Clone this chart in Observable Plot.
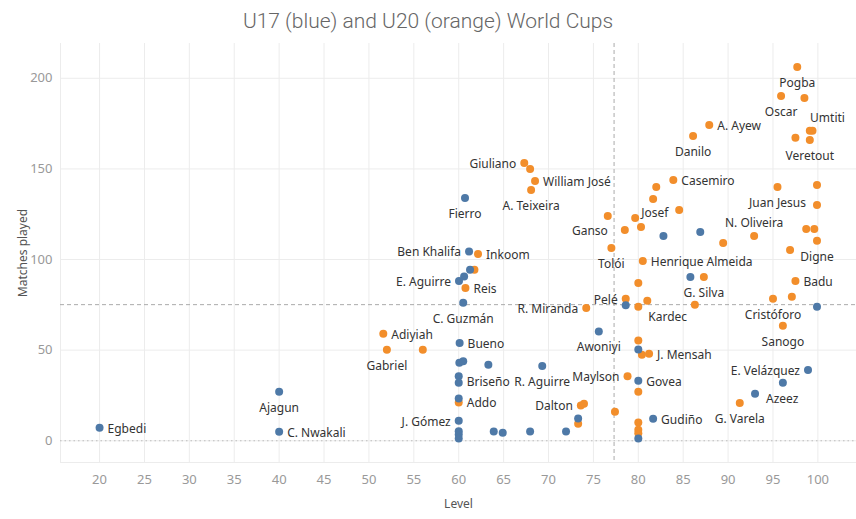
<!DOCTYPE html>
<html>
<head>
<meta charset="utf-8">
<script src="https://cdn.jsdelivr.net/npm/d3@7"></script>
<script src="https://cdn.jsdelivr.net/npm/@observablehq/plot@0.6"></script>
<style>
  html, body { margin: 0; padding: 0; background: #fff; }
  #title {
    height: 36px; width: 856px; text-align: center;
    font-family: Roboto, "Open Sans", sans-serif; font-weight: 300;
    font-size: 21px; line-height: 26px; color: #666;
    box-sizing: border-box; padding-top: 8px; white-space: nowrap;
  }
  #chart svg { display: block; }
</style>
</head>
<body>
<div id="title">U17 (blue) and U20 (orange) World Cups</div>
<div id="chart"></div>
<script>
// ---------- Data ----------
const u17Names = ["Egbedi","Ajagun","C. Nwakali","Fierro","Ben Khalifa","","","E. Aguirre","C. Guzmán","Bueno",
  "","","","R. Aguirre","","Briseño","","J. Gómez","","",
  "","","","","","","Awoniyi","","","Govea",
  "","Gudiño","","","","","E. Velázquez","","Azeez"];
const u17Level = [20,40,40,60.7,61.15,61.26,60.6,60.03,60.5,60.1,
  60.07,60.5,63.3,69.3,60,60,60,60,60,60,
  60,63.9,64.9,67.95,71.95,73.3,75.6,78.6,80,80,
  80,81.65,82.8,86.9,85.8,99.9,98.9,96.1,93.0];
const u17Matches = [7.2,27,5,134,104.4,94.3,90.6,88.2,76.2,54,
  43.0,43.9,41.9,41.3,35.6,32.0,23.3,11.0,5.3,3.5,
  1.3,5.1,4.4,5.1,5.1,12.3,60.3,74.8,50.3,33.1,
  1.3,12.1,113.0,115.2,90.4,73.9,39.1,32.0,25.9];

const u20Names = ["Pogba","Oscar","","Umtiti","","","Veretout","A. Ayew","Danilo","Giuliano",
  "","William José","A. Teixeira","Casemiro","","","","Josef","","Ganso",
  "","","","Juan Jesus","N. Oliveira","","","","Digne","",
  "Tolói","Henrique Almeida","Inkoom","","Reis","R. Miranda","Pelé","Kardec","","",
  "G. Silva","","Badu","Cristóforo","","Sanogo","Adiyiah","Gabriel","","",
  "","J. Mensah","Maylson","","Addo","Dalton","","","","",
  "","","G. Varela"];
const u20Level = [97.7,95.9,98.5,99.4,99.1,97.5,99.1,87.9,86.1,67.3,
  67.95,68.5,68.06,83.9,82.0,81.65,84.55,79.65,76.6,78.5,
  80.3,95.5,99.9,99.9,92.9,89.45,98.7,99.6,99.9,96.9,
  77.0,80.5,62.15,61.75,60.75,74.2,78.6,80,81.0,80,
  87.3,86.3,97.5,95.0,97.1,96.1,51.6,52.0,56.0,80,
  80.4,81.2,78.8,80,60,73.6,73.95,73.3,77.4,80,
  80,80,91.3];
const u20Matches = [206.2,190.2,189.1,171.1,171.1,167.2,165.9,174.2,168.1,153.2,
  149.9,143.3,138.4,143.9,140.0,133.4,127.3,122.9,124.0,116.3,
  118.0,140.0,141.1,130.1,113.0,109.1,116.9,116.9,110.3,105.3,
  106.4,99.2,103.1,94.3,84.3,73.3,78.4,73.9,77.2,87.1,
  90.4,75.0,88.2,78.3,79.4,63.4,59.0,50.2,50.2,55.3,
  47.4,48.0,35.6,27.0,21.1,19.5,20.4,9.4,16.0,10.1,
  6.1,4.2,20.9];

const xTicks = [20,25,30,35,40,45,50,55,60,65,70,75,80,85,90,95,100];
const yTicks = [0,50,100,150,200];
const avgLevel = 77.3;
const avgMatches = 75.1;

// ---------- Styling config ----------
const seriesColor = {U17: "#4e79a7", U20: "#f28e2b"};
const B = ["middle", 0, 16], R = ["start", 8, 1], L = ["end", -8, 1], A = ["middle", 0, -13];
const placement = {
  "Egbedi": R, "Ajagun": B, "C. Nwakali": R, "Fierro": B, "Ben Khalifa": L, "E. Aguirre": L,
  "C. Guzmán": B, "Bueno": R, "R. Aguirre": B, "Briseño": ["start", 8, -1], "J. Gómez": L,
  "Awoniyi": B, "Govea": R, "Gudiño": R, "E. Velázquez": L, "Azeez": ["start", 11, 5],
  "Pogba": B, "Oscar": B, "Umtiti": ["middle", 15, -13], "Veretout": B, "A. Ayew": R, "Danilo": B,
  "Giuliano": L, "William José": R, "A. Teixeira": B, "Casemiro": R, "Josef": ["start", 6, -5],
  "Ganso": ["end", -17, 1], "Juan Jesus": ["end", -11, -2], "N. Oliveira": A, "Digne": B,
  "Tolói": B, "Henrique Almeida": R, "Inkoom": R, "Reis": R, "R. Miranda": L, "Pelé": L,
  "Kardec": ["start", 10, 10], "G. Silva": B, "Badu": R, "Cristóforo": B, "Sanogo": B,
  "Adiyiah": R, "Gabriel": B, "J. Mensah": R, "Maylson": L, "Addo": R, "Dalton": L, "G. Varela": B
};

// ---------- Build table ----------
const points = [
  ...u20Names.map((n, i) => ({name: n, level: u20Level[i], matches: u20Matches[i], series: "U20"})),
  ...u17Names.map((n, i) => ({name: n, level: u17Level[i], matches: u17Matches[i], series: "U17"}))
];
const labeled = points.filter(d => d.name);
const groups = d3.group(labeled, d => (placement[d.name] || R).join("|"));

const xDomain = [15.65, 104.3];
const yDomain = [-12, 219.2];

const labelMarks = [];
for (const [key, rows] of groups) {
  const [anchor, dx, dy] = key.split("|");
  labelMarks.push(Plot.text(rows, {
    x: "level", y: "matches", text: "name",
    textAnchor: anchor, dx: +dx, dy: +dy,
    fill: "#333", fontSize: 12
  }));
}

const chart = Plot.plot({
  width: 856,
  height: 483,
  marginTop: 7,
  marginLeft: 60,
  marginRight: 0,
  marginBottom: 57,
  style: {fontFamily: '"Noto Sans", sans-serif', fontSize: "12px", background: "#fff"},
  x: {domain: xDomain, ticks: xTicks, tickSize: 0, tickPadding: 12, tickFormat: d => String(d),
      label: "Level", labelAnchor: "center", labelOffset: 45, labelArrow: "none"},
  y: {domain: yDomain, ticks: yTicks, tickSize: 0, tickPadding: 8, tickFormat: d => String(d),
      label: "Matches played", labelAnchor: "center", labelOffset: 42, labelArrow: "none"},
  marks: [
    Plot.gridX(xTicks, {stroke: "#ececec", strokeOpacity: 1}),
    Plot.gridY(yTicks, {stroke: "#ececec", strokeOpacity: 1}),
    Plot.ruleX([xDomain[0]], {stroke: "#ececec"}),
    Plot.ruleY([yDomain[0]], {stroke: "#ececec"}),
    Plot.ruleY([0], {stroke: "#bdbdbd", strokeDasharray: "1.5,3"}),
    Plot.ruleX([avgLevel], {stroke: "#aaaaaa", strokeDasharray: "4,3"}),
    Plot.ruleY([avgMatches], {stroke: "#aaaaaa", strokeDasharray: "4,3"}),
    Plot.dot(points, {x: "level", y: "matches", r: 4, fill: d => seriesColor[d.series], stroke: "none"}),
    ...labelMarks
  ]
});
document.getElementById("chart").appendChild(chart);

// axis text colours (and strip any arrow glyphs)
const svg = d3.select(chart);
svg.selectAll('[aria-label="x-axis tick label"] text, [aria-label="y-axis tick label"] text')
  .attr("fill", "#999").style("font-size", "13px");
svg.selectAll('[aria-label="x-axis label"] text, [aria-label="y-axis label"] text')
  .attr("fill", "#555").style("font-size", "12px")
  .text(function() { return this.textContent.replace(/[\u2190-\u2193]/g, "").trim(); });
</script>
</body>
</html>
